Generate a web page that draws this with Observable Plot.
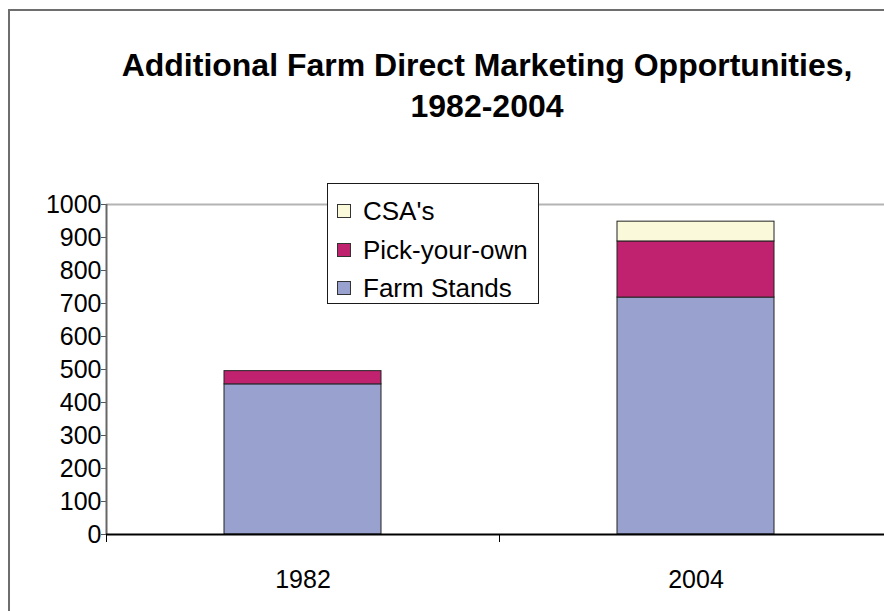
<!DOCTYPE html>
<html>
<head>
<meta charset="utf-8">
<script src="https://cdn.jsdelivr.net/npm/d3@7"></script>
<script src="https://cdn.jsdelivr.net/npm/@observablehq/plot@0.6"></script>
<style>
html,body{margin:0;padding:0;width:884px;height:611px;overflow:hidden;background:#fff;font-family:"Liberation Sans",Arial,sans-serif;}
#wrap{position:relative;width:884px;height:611px;overflow:hidden;}
#frame{position:absolute;left:8px;top:9px;width:876px;height:602px;border-left:2px solid #6e6e6e;border-top:2px solid #6e6e6e;box-sizing:border-box;}
#chart{position:absolute;left:0;top:0;width:884px;height:611px;overflow:hidden;}
#chart svg text{font-size:25px !important;fill:#000;}
#title{position:absolute;left:87px;top:45px;width:800px;text-align:center;font-weight:bold;font-size:32px;line-height:41px;color:#000;}
#legend{position:absolute;left:327px;top:183px;width:212px;height:121px;box-sizing:border-box;border:1px solid #1a1a1a;background:#fff;}
.item{position:absolute;left:9px;height:30px;font-size:26px;line-height:30px;color:#000;white-space:nowrap;}
.sw{position:absolute;left:0;top:8px;width:14px;height:14px;box-sizing:border-box;border:1px solid #333;}
.lab{position:absolute;left:26px;top:0;}
</style>
</head>
<body>
<div id="wrap">
<div id="chart"></div>
<div id="frame"></div>
<div id="title">Additional Farm Direct Marketing Opportunities,<br>1982-2004</div>
<div id="legend"></div>
</div>
<script>
const years = ["1982", "2004"];
const series = ["Farm Stands", "Pick-your-own", "CSA's"];
const farmStands = [455, 718];
const pickYourOwn = [40, 170];
const csas = [0, 60];
const colors = ["#99a1cf", "#c0226f", "#faf9da"];
const yTicks = [0, 100, 200, 300, 400, 500, 600, 700, 800, 900, 1000];

const valuesBySeries = [farmStands, pickYourOwn, csas];
const rows = [];
series.forEach((s, si) => {
  years.forEach((y, yi) => {
    const v = valuesBySeries[si][yi];
    if (v > 0) rows.push({year: y, series: s, value: v});
  });
});

const W = 892, H = 611, ML = 106, MR = 0, MT = 204, MB = 77;
const step = (W - ML - MR) / years.length;

const chart = Plot.plot({
  width: W,
  height: H,
  marginLeft: ML,
  marginRight: MR,
  marginTop: MT,
  marginBottom: MB,
  style: {fontFamily: "'Liberation Sans', Arial, sans-serif", fontSize: "25px", color: "#000", background: "transparent", overflow: "hidden", maxWidth: "none"},
  x: {domain: years, paddingInner: 0.6, paddingOuter: 0.3, label: null},
  y: {domain: [0, 1000], label: null},
  color: {domain: series, range: colors},
  marks: [
    Plot.ruleY([1000], {stroke: "#b4b4b4", strokeWidth: 2}),
    Plot.barY(rows, Plot.stackY({x: "year", y: "value", fill: "series", order: series, stroke: "#222", strokeWidth: 1})),
    Plot.axisY({ticks: yTicks, tickFormat: "d", tickSize: 5, tickPadding: 0, fontSize: 25, stroke: "#555", label: null}),
    Plot.ruleX([years[0]], {dx: -step / 2, y1: 0, y2: 1000, stroke: "#666", strokeWidth: 2}),
    Plot.axisX({tickSize: 0, tickPadding: 36, fontSize: 25, label: null}),
    Plot.ruleX(years, {dx: -step / 2, y: 0, stroke: "#000", strokeWidth: 1, insetTop: 0, insetBottom: -8}),
    Plot.ruleY([0], {stroke: "#000", strokeWidth: 2})
  ]
});
document.getElementById("chart").appendChild(chart);

const legend = document.getElementById("legend");
const order = [2, 1, 0];
const rowsY = [12, 51, 89];
order.forEach((si, i) => {
  const it = document.createElement("div");
  it.className = "item";
  it.style.top = rowsY[i] + "px";
  const sw = document.createElement("div");
  sw.className = "sw";
  sw.style.background = colors[si];
  const lab = document.createElement("span");
  lab.className = "lab";
  lab.textContent = series[si];
  it.appendChild(sw);
  it.appendChild(lab);
  legend.appendChild(it);
});
</script>
</body>
</html>
